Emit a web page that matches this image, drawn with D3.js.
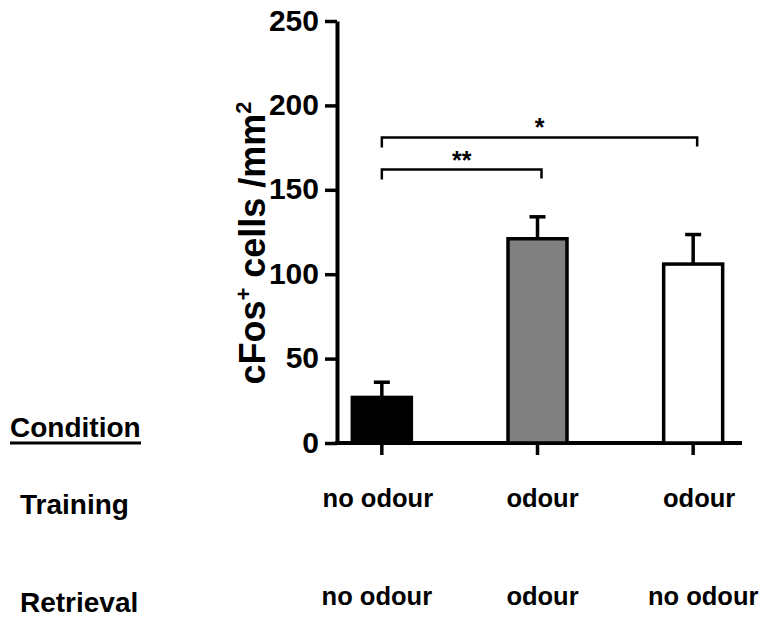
<html lang="en">
<head>
<meta http-equiv="Content-Type" content="text/html; charset=UTF-8">
<title>cFos chart</title>
<script type="text/javascript" src="https://cdn.jsdelivr.net/npm/d3@7"></script>
<style type="text/css">
body { margin: 0; background: #fff; }
text { font-family: Arial, "Liberation Sans", sans-serif; font-weight: bold; fill: #000; }
</style>
</head>
<body>

<script type="text/javascript">

// data
var groups = ["A", "B", "C"];
var means = [27, 121, 106];
var sems = [9, 13, 17.5];
var fills = ["#000000", "#808080", "#ffffff"];
var training = ["no odour", "odour", "odour"];
var retrieval = ["no odour", "odour", "no odour"];
var yTicks = [0, 50, 100, 150, 200, 250];
// significance brackets: from group, to group, level, label
var sigFrom = [0, 0];
var sigTo = [2, 1];
var sigLevel = [181, 162];
var sigLabel = ["*", "**"];

var svg = d3.select("body").append("svg")
    .attr("width", 762)
    .attr("height", 619);

var y = d3.scaleLinear().domain([0, 250]).range([443, 21]);
var x = d3.scaleBand().domain(groups).range([304, 771]);
function cx(g) { return x(g) + x.bandwidth() / 2; }

// y axis
var yAxis = svg.append("g")
    .attr("transform", "translate(337,0)")
    .call(d3.axisLeft(y).tickValues(yTicks).tickSize(12).tickSizeOuter(0).tickPadding(6));
yAxis.select(".domain").attr("stroke-width", 4);
yAxis.selectAll(".tick line").attr("stroke-width", 3.5);
yAxis.selectAll(".tick text").attr("font-size", 30).attr("font-family", null).attr("dy", "0.3em");

// x axis
var xAxis = svg.append("g")
    .attr("transform", "translate(0," + y(0) + ")")
    .call(d3.axisBottom(x).tickSize(12).tickFormat(""));
xAxis.select(".domain").remove();
xAxis.selectAll(".tick line").attr("stroke-width", 3.5);
svg.append("line")
    .attr("x1", 335).attr("x2", 742)
    .attr("y1", y(0)).attr("y2", y(0))
    .attr("stroke", "#000").attr("stroke-width", 4);

// error bars (upper only)
var barW = 59;
svg.selectAll(".err")
    .data(groups).enter().append("line")
    .attr("class", "err")
    .attr("x1", function(d) { return cx(d); })
    .attr("x2", function(d) { return cx(d); })
    .attr("y1", function(d, i) { return y(means[i]); })
    .attr("y2", function(d, i) { return y(means[i] + sems[i]); })
    .attr("stroke", "#000").attr("stroke-width", 3.5);
svg.selectAll(".cap")
    .data(groups).enter().append("line")
    .attr("class", "cap")
    .attr("x1", function(d) { return cx(d) - 8; })
    .attr("x2", function(d) { return cx(d) + 8; })
    .attr("y1", function(d, i) { return y(means[i] + sems[i]); })
    .attr("y2", function(d, i) { return y(means[i] + sems[i]); })
    .attr("stroke", "#000").attr("stroke-width", 3.5);

// bars
svg.selectAll(".bar")
    .data(groups).enter().append("rect")
    .attr("class", "bar")
    .attr("x", function(d) { return cx(d) - barW / 2; })
    .attr("y", function(d, i) { return y(means[i]); })
    .attr("width", barW)
    .attr("height", function(d, i) { return y(0) - y(means[i]); })
    .attr("fill", function(d, i) { return fills[i]; })
    .attr("stroke", "#000").attr("stroke-width", 3.5);

// significance brackets
sigFrom.forEach(function(f, i) {
    var x1 = cx(groups[f]), x2 = cx(groups[sigTo[i]]) + 4, yy = y(sigLevel[i]);
    svg.append("path")
        .attr("d", "M" + x1 + "," + (yy + 10) + "V" + yy + "H" + x2 + "V" + (yy + 9))
        .attr("fill", "none").attr("stroke", "#000").attr("stroke-width", 2.5);
    svg.append("text")
        .attr("x", (x1 + x2) / 2)
        .attr("y", yy - 1)
        .attr("text-anchor", "middle")
        .attr("font-size", 25)
        .text(sigLabel[i]);
});

// y label
var yl = svg.append("text")
    .attr("transform", "translate(265,243) rotate(-90)")
    .attr("text-anchor", "middle")
    .attr("font-size", 36);
yl.append("tspan").text("cFos");
yl.append("tspan").attr("font-size", 22).attr("dy", -14).text("+");
yl.append("tspan").attr("dy", 14).text(" cells /mm");
yl.append("tspan").attr("font-size", 22).attr("dy", -14).text("2");

// condition table
svg.append("text").attr("x", 10).attr("y", 437).attr("font-size", 28).text("Condition");
svg.append("line").attr("x1", 10).attr("x2", 141).attr("y1", 443).attr("y2", 443)
    .attr("stroke", "#000").attr("stroke-width", 3);
svg.append("text").attr("x", 20).attr("y", 514).attr("font-size", 28).text("Training");
svg.append("text").attr("x", 20).attr("y", 612).attr("font-size", 28).text("Retrieval");

var trainShift = [-4, 5, 6];
var retShift = [-5, 5, 10];
svg.selectAll(".train")
    .data(groups).enter().append("text")
    .attr("class", "train")
    .attr("x", function(d, i) { return cx(d) + trainShift[i]; })
    .attr("y", 507)
    .attr("text-anchor", "middle")
    .attr("font-size", 25.5)
    .text(function(d, i) { return training[i]; });
svg.selectAll(".ret")
    .data(groups).enter().append("text")
    .attr("class", "ret")
    .attr("x", function(d, i) { return cx(d) + retShift[i]; })
    .attr("y", 605)
    .attr("text-anchor", "middle")
    .attr("font-size", 25.5)
    .text(function(d, i) { return retrieval[i]; });

</script>

</body>
</html>
